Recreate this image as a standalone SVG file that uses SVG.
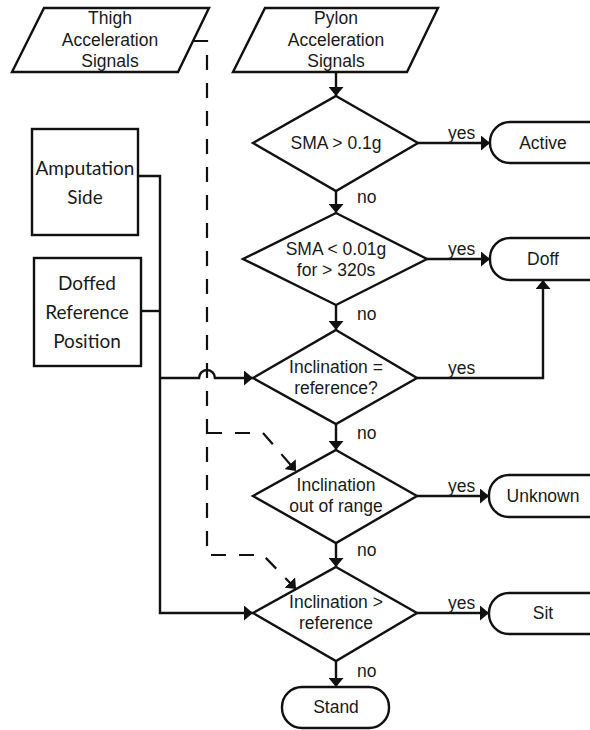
<svg xmlns="http://www.w3.org/2000/svg" width="590" height="730" viewBox="0 0 590 730">
<style>
.shape{fill:#fff;stroke:#111;stroke-width:2.4}
.t{font-family:"Liberation Sans",Arial,sans-serif;font-size:17.5px;fill:#1a1a1a;text-anchor:middle}
.c{font-family:Lato,"Open Sans",sans-serif;font-size:19px;fill:#1a1a1a;text-anchor:middle}
.lbl{font-family:"Liberation Sans",Arial,sans-serif;font-size:17.5px;fill:#1a1a1a}
.ln{fill:none;stroke:#111;stroke-width:2.4}
.dash{fill:none;stroke:#111;stroke-width:2.2;stroke-dasharray:15 13}
</style>
<defs>
<marker id="ah" viewBox="0 0 9 15" markerWidth="9" markerHeight="15" refX="9" refY="7.5" orient="auto" markerUnits="userSpaceOnUse">
<path d="M0,0 L9,7.5 L0,15 z" fill="#111"/>
</marker>
</defs>
<g id="connectors">
<path class="ln" d="M336,72 V96" marker-end="url(#ah)"/>
<path class="ln" d="M336,191 V213" marker-end="url(#ah)"/>
<path class="ln" d="M336,305 V330" marker-end="url(#ah)"/>
<path class="ln" d="M336,424 V450" marker-end="url(#ah)"/>
<path class="ln" d="M336,543 V567" marker-end="url(#ah)"/>
<path class="ln" d="M336,661 V687" marker-end="url(#ah)"/>
<path class="ln" d="M418,143 H490" marker-end="url(#ah)"/>
<path class="ln" d="M427,259 H490" marker-end="url(#ah)"/>
<path class="ln" d="M417,378 H543 V280" marker-end="url(#ah)"/>
<path class="ln" d="M417,496 H489" marker-end="url(#ah)"/>
<path class="ln" d="M417,613 H489" marker-end="url(#ah)"/>
<path class="ln" d="M138,176 H160 V613 H253" marker-end="url(#ah)"/>
<path class="ln" d="M141,311 H160"/>
<path class="ln" d="M160,378 H199 A8,8 0 0 1 215,378 H253" marker-end="url(#ah)"/>
<path class="dash" d="M193,41 H207 V555 H263 L296,589" marker-end="url(#ah)"/>
<path class="dash" d="M207,433 H263 L296,471" marker-end="url(#ah)"/>
<text class="lbl" x="448" y="139">yes</text>
<text class="lbl" x="448" y="255">yes</text>
<text class="lbl" x="448" y="374">yes</text>
<text class="lbl" x="448" y="492">yes</text>
<text class="lbl" x="448" y="609">yes</text>
<text class="lbl" x="357" y="203">no</text>
<text class="lbl" x="357" y="320">no</text>
<text class="lbl" x="357" y="439">no</text>
<text class="lbl" x="357" y="556">no</text>
<text class="lbl" x="357" y="677">no</text>
</g>
<g id="thigh">
<polygon class="shape" points="44,8 209,8 178,72 12,72"/>
<text class="t" x="110" y="24">Thigh</text>
<text class="t" x="110" y="46">Acceleration</text>
<text class="t" x="110" y="67">Signals</text>
</g>
<g id="pylon">
<polygon class="shape" points="265,8 438,8 407,72 233,72"/>
<text class="t" x="336" y="24">Pylon</text>
<text class="t" x="336" y="46">Acceleration</text>
<text class="t" x="336" y="67">Signals</text>
</g>
<g id="amputation">
<rect class="shape" x="32" y="129" width="106" height="106"/>
<text class="c" x="85" y="175">Amputation</text>
<text class="c" x="85" y="204">Side</text>
</g>
<g id="doffed">
<rect class="shape" x="34" y="258" width="107" height="108"/>
<text class="c" x="87" y="290">Doffed</text>
<text class="c" x="87" y="319">Reference</text>
<text class="c" x="87" y="348">Position</text>
</g>
<g id="d1">
<polygon class="shape" points="336,96 418,143 336,191 253,143"/>
<text class="t" x="336" y="149">SMA &gt; 0.1g</text>
</g>
<g id="d2">
<polygon class="shape" points="336,213 427,259 336,305 243,259"/>
<text class="t" x="336" y="255">SMA &lt; 0.01g</text>
<text class="t" x="336" y="276">for &gt; 320s</text>
</g>
<g id="d3">
<polygon class="shape" points="336,330 417,378 336,424 253,378"/>
<text class="t" x="336" y="373">Inclination =</text>
<text class="t" x="336" y="394">reference?</text>
</g>
<g id="d4">
<polygon class="shape" points="336,450 417,496 336,543 253,496"/>
<text class="t" x="336" y="491">Inclination</text>
<text class="t" x="336" y="512">out of range</text>
</g>
<g id="d5">
<polygon class="shape" points="336,567 417,613 336,661 253,613"/>
<text class="t" x="336" y="608">Inclination &gt;</text>
<text class="t" x="336" y="629">reference</text>
</g>
<g id="active">
<rect class="shape" x="490" y="122" width="130" height="41" rx="20"/>
<text class="t" x="543" y="149">Active</text>
</g>
<g id="doff">
<rect class="shape" x="490" y="238" width="130" height="42" rx="20"/>
<text class="t" x="543" y="265">Doff</text>
</g>
<g id="unknown">
<rect class="shape" x="489" y="475" width="130" height="42" rx="20"/>
<text class="t" x="543" y="502">Unknown</text>
</g>
<g id="sit">
<rect class="shape" x="489" y="593" width="130" height="41" rx="20"/>
<text class="t" x="543" y="619">Sit</text>
</g>
<g id="stand">
<rect class="shape" x="282" y="687" width="107" height="41" rx="20"/>
<text class="t" x="336" y="713">Stand</text>
</g>
</svg>
